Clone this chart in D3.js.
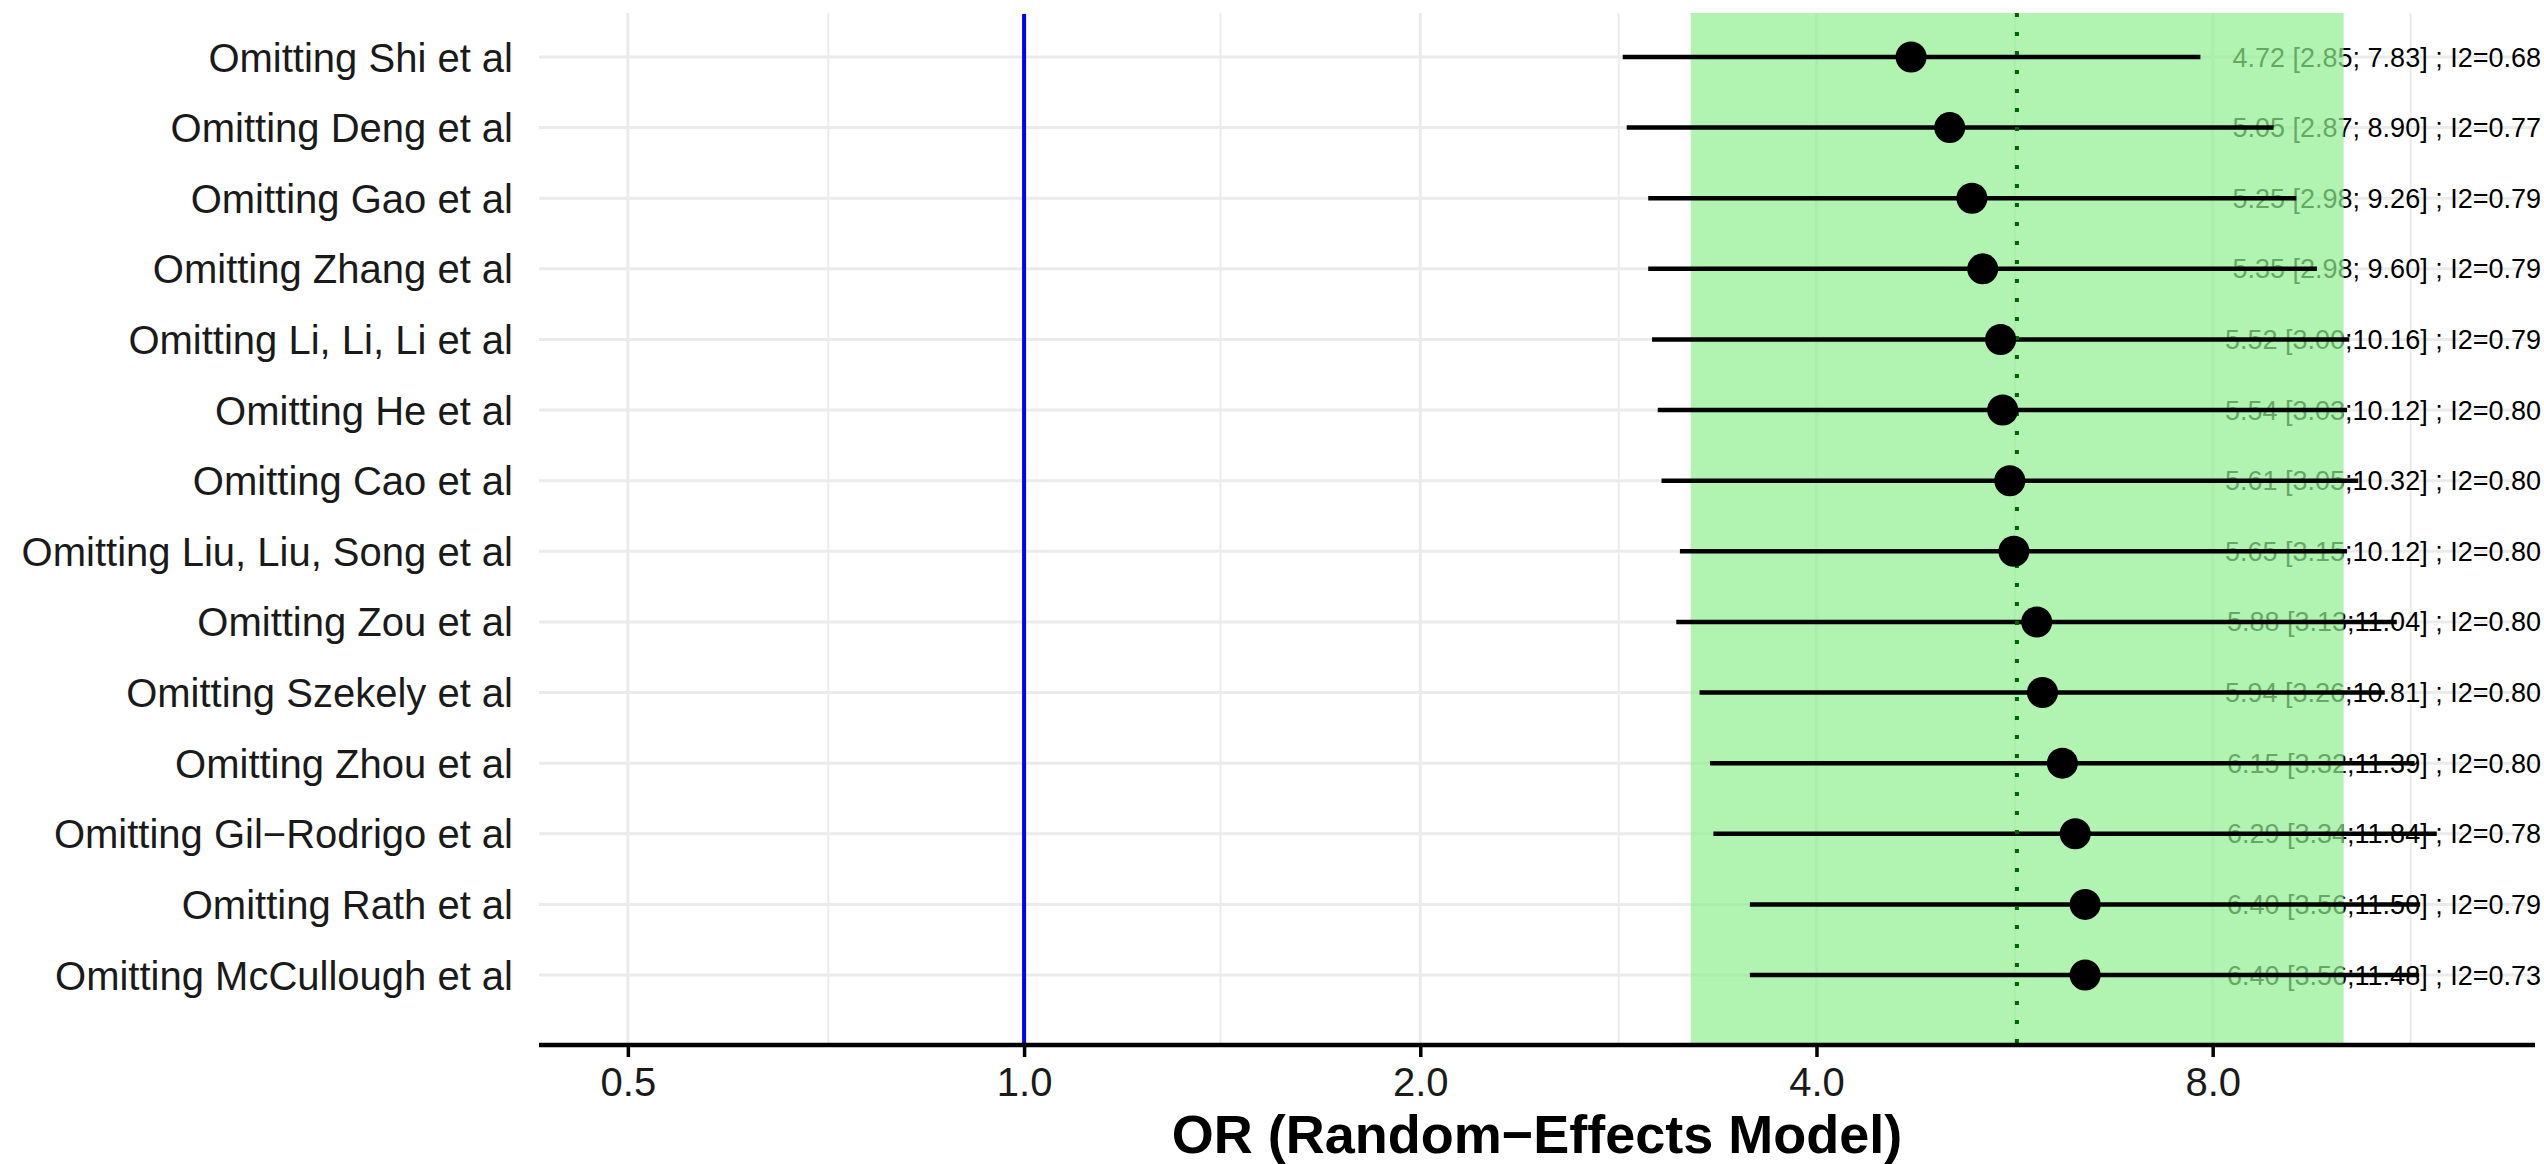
<!DOCTYPE html>
<html>
<head>
<meta charset="utf-8">
<script src="https://cdn.jsdelivr.net/npm/d3@7"></script>
<style>
  html, body { margin: 0; padding: 0; background: #fff; }
  svg { display: block; }
  text { font-family: "Liberation Sans", Arial, Helvetica, sans-serif; }
</style>
</head>
<body>
<svg id="chart"></svg>
<script>
// Leave-one-out sensitivity analysis (random-effects OR)
const studies = [
  'Omitting Shi et al',
  'Omitting Deng et al',
  'Omitting Gao et al',
  'Omitting Zhang et al',
  'Omitting Li, Li, Li et al',
  'Omitting He et al',
  'Omitting Cao et al',
  'Omitting Liu, Liu, Song et al',
  'Omitting Zou et al',
  'Omitting Szekely et al',
  'Omitting Zhou et al',
  'Omitting Gil\u2212Rodrigo et al',
  'Omitting Rath et al',
  'Omitting McCullough et al'
]
const orValues = [4.72, 5.05, 5.25, 5.35, 5.52, 5.54, 5.61, 5.65, 5.88, 5.94, 6.15, 6.29, 6.40, 6.40]
const ciLower  = [2.85, 2.87, 2.98, 2.98, 3.00, 3.03, 3.05, 3.15, 3.13, 3.26, 3.32, 3.34, 3.56, 3.56]
const ciUpper  = [7.83, 8.90, 9.26, 9.60, 10.16, 10.12, 10.32, 10.12, 11.04, 10.81, 11.39, 11.84, 11.50, 11.48]
const i2Values = [0.68, 0.77, 0.79, 0.79, 0.79, 0.80, 0.80, 0.80, 0.80, 0.80, 0.80, 0.78, 0.79, 0.73]

// pooled estimate (all studies)
const pooled = { or: 5.68, lower: 3.21, upper: 10.06 }

const majorBreaks = [0.5, 1, 2, 4, 8]
const minorBreaks = [0.71, 1.41, 2.83, 5.66, 11.31]
const xDomain = [0.428, 14.06]

const width = 2544
const height = 1164
const panel = { left: 539, right: 2535, top: 13, bottom: 1045 }

const svg = d3.select('#chart').attr('width', width).attr('height', height)

const x = d3.scaleLog().base(2).domain(xDomain).range([panel.left, panel.right])
const y = d3.scalePoint().domain(studies).range([57, 975])

const rows = studies.map((name, i) => ({
  name,
  or: orValues[i],
  lower: ciLower[i],
  upper: ciUpper[i],
  i2: i2Values[i]
}))

const fmt = d3.format('.2f')
const labelFor = d => {
  const up = fmt(d.upper)
  return `${fmt(d.or)} [${fmt(d.lower)};${up.length < 5 ? ' ' : ''}${up}] ; I2=${fmt(d.i2)}`
}

// gridlines
const grid = svg.append('g')
grid.selectAll('line.minor')
  .data(minorBreaks)
  .enter().append('line')
  .attr('x1', d => x(d)).attr('x2', d => x(d))
  .attr('y1', panel.top).attr('y2', panel.bottom)
  .attr('stroke', '#ebebeb').attr('stroke-width', 2)
grid.selectAll('line.major')
  .data(majorBreaks)
  .enter().append('line')
  .attr('x1', d => x(d)).attr('x2', d => x(d))
  .attr('y1', panel.top).attr('y2', panel.bottom)
  .attr('stroke', '#ebebeb').attr('stroke-width', 3)
grid.selectAll('line.row')
  .data(studies)
  .enter().append('line')
  .attr('x1', panel.left).attr('x2', panel.right)
  .attr('y1', d => y(d)).attr('y2', d => y(d))
  .attr('stroke', '#ebebeb').attr('stroke-width', 3)

// estimate labels (drawn under the pooled band)
svg.append('g').selectAll('text')
  .data(rows)
  .enter().append('text')
  .attr('x', 2541)
  .attr('y', d => y(d.name) + 9.5)
  .attr('text-anchor', 'end')
  .attr('font-size', 27)
  .attr('fill', '#000')
  .text(labelFor)

// pooled CI band
svg.append('rect')
  .attr('x', x(pooled.lower))
  .attr('width', x(pooled.upper) - x(pooled.lower))
  .attr('y', panel.top)
  .attr('height', panel.bottom - panel.top)
  .attr('fill', '#90ee90')
  .attr('fill-opacity', 0.7)

// null line
svg.append('line')
  .attr('x1', x(1)).attr('x2', x(1))
  .attr('y1', panel.top + 1).attr('y2', panel.bottom)
  .attr('stroke', '#0000ff').attr('stroke-width', 4)

// CI segments
svg.append('g').selectAll('line')
  .data(rows)
  .enter().append('line')
  .attr('x1', d => x(d.lower)).attr('x2', d => x(d.upper))
  .attr('y1', d => y(d.name)).attr('y2', d => y(d.name))
  .attr('stroke', '#000').attr('stroke-width', 4.5)

// pooled estimate (dotted)
svg.append('line')
  .attr('x1', x(pooled.or)).attr('x2', x(pooled.or))
  .attr('y1', panel.top).attr('y2', panel.bottom)
  .attr('stroke', '#006400').attr('stroke-width', 4)
  .attr('stroke-dasharray', '4 15')

// points
svg.append('g').selectAll('circle')
  .data(rows)
  .enter().append('circle')
  .attr('cx', d => x(d.or))
  .attr('cy', d => y(d.name))
  .attr('r', 15.5)
  .attr('fill', '#000')

// y axis labels
svg.append('g').selectAll('text')
  .data(studies)
  .enter().append('text')
  .attr('x', 513)
  .attr('y', d => y(d) + 14.5)
  .attr('text-anchor', 'end')
  .attr('font-size', 40)
  .attr('fill', '#1a1a1a')
  .text(d => d)

// x axis
const xAxis = d3.axisBottom(x)
  .tickValues(majorBreaks)
  .tickFormat(d3.format('.1f'))
  .tickSize(12)
  .tickPadding(10)

const axisG = svg.append('g')
  .attr('transform', `translate(0,${panel.bottom})`)
  .call(xAxis)
axisG.select('.domain').remove()
axisG.selectAll('.tick line').attr('stroke', '#000').attr('stroke-width', 3.5)
axisG.selectAll('.tick text')
  .attr('font-size', 40)
  .attr('fill', '#1a1a1a')
  .attr('font-family', '"Liberation Sans", Arial, sans-serif')
  .attr('dy', null)
  .attr('y', 51)
axisG.append('line')
  .attr('x1', panel.left).attr('x2', panel.right)
  .attr('y1', 0).attr('y2', 0)
  .attr('stroke', '#000').attr('stroke-width', 4.5)

svg.append('text')
  .attr('x', (panel.left + panel.right) / 2)
  .attr('y', 1153)
  .attr('text-anchor', 'middle')
  .attr('font-size', 54)
  .attr('font-weight', 'bold')
  .attr('fill', '#000')
  .text('OR (Random\u2212Effects Model)')
</script>
</body>
</html>
